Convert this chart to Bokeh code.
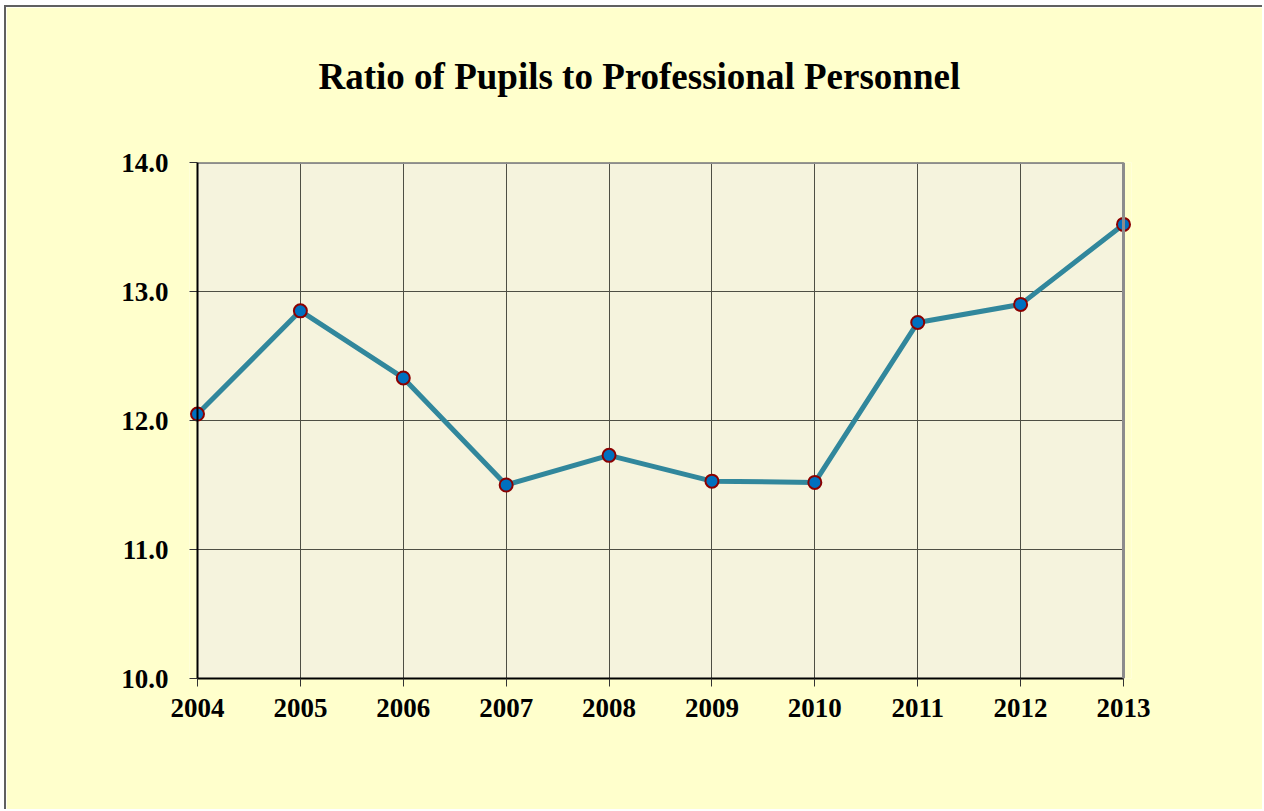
from bokeh.plotting import figure
from bokeh.models import Range1d, FixedTicker, NumeralTickFormatter, BoxAnnotation, Span
from bokeh.embed import file_html
from bokeh.resources import INLINE

years = [2004, 2005, 2006, 2007, 2008, 2009, 2010, 2011, 2012, 2013]
ratio = [12.05, 12.85, 12.33, 11.50, 11.73, 11.53, 11.52, 12.76, 12.90, 13.52]
y_ticks = [10, 11, 12, 13, 14]
title_text = "Ratio of Pupils to Professional Personnel"

FONT = "Liberation Serif"
PLOT_BG = "#F5F3DD"
PAGE_BG = "#FFFFCC"
GRID = "#4E4E44"

W, H = 1258, 804
tick_left, tick_right = 191, 1117   # canvas px of first/last year
frame_top, frame_bottom = 155, 671
pad_px = 8
px_per_year = (tick_right - tick_left) / (years[-1] - years[0])
pad = pad_px / px_per_year

p = figure(width=W, height=H, output_backend="svg", toolbar_location=None,
           x_range=Range1d(years[0] - pad, years[-1] + pad),
           y_range=Range1d(y_ticks[0], y_ticks[-1]),
           min_border_left=tick_left - pad_px, min_border_right=W - (tick_right + pad_px),
           min_border_top=frame_top, min_border_bottom=H - frame_bottom)
p.styles = {"border-left": "2px solid #606060", "border-top": "2px solid #606060",
            "margin-left": "4px", "margin-top": "5px"}

p.background_fill_color = PAGE_BG
p.border_fill_color = PAGE_BG
p.outline_line_color = None

# plot area background
p.add_layout(BoxAnnotation(left=years[0], right=years[-1], bottom=y_ticks[0], top=y_ticks[-1],
                           fill_color=PLOT_BG, fill_alpha=1, line_color=None, level="image"))

# grid
p.xgrid.ticker = FixedTicker(ticks=years)
p.xgrid.grid_line_color = GRID
p.ygrid.grid_line_color = None
p.segment(x0=[years[0]] * len(y_ticks), x1=[years[-1]] * len(y_ticks), y0=y_ticks, y1=y_ticks,
          line_color=GRID, line_width=1)

# frame border (top/right) and left axis line
p.segment(x0=[years[0]], x1=[years[-1]], y0=[y_ticks[-1]], y1=[y_ticks[-1]],
          line_color="#8C8C8C", line_width=3)
p.add_layout(Span(location=years[-1], dimension="height", line_color="#8C8C8C", line_width=3))
p.add_layout(Span(location=years[0], dimension="height", line_color="black", line_width=2))

# axes
p.xaxis.ticker = FixedTicker(ticks=years)
p.xaxis.bounds = (years[0], years[-1])
p.yaxis.ticker = FixedTicker(ticks=y_ticks)
p.yaxis.formatter = NumeralTickFormatter(format="0.0")

for ax in (p.xaxis[0], p.yaxis[0]):
    ax.axis_line_color = "black"
    ax.axis_line_width = 2
    ax.major_tick_line_color = "#333333"
    ax.minor_tick_line_color = None
    ax.major_label_text_font = FONT
    ax.major_label_text_font_style = "bold"
    ax.major_label_text_font_size = "27px"
    ax.major_label_text_color = "black"
p.xaxis.major_tick_out = 8
p.xaxis.major_tick_in = 0
p.xaxis.major_label_standoff = 12
# y axis sits at the padded frame edge; its ticks point inward to the first year
p.yaxis.axis_line_color = None
p.yaxis.major_tick_out = 0
p.yaxis.major_tick_in = pad_px
p.yaxis.major_label_standoff = 21

# data
p.line(years, ratio, line_color="#31879C", line_width=5)
p.scatter(years, ratio, size=13, fill_color="#0070C0", line_color="#8B0000", line_width=2)

# title (trailing blank line lifts it above the plot area)
p.title.text = title_text + "\n"
p.title.align = "left"
p.title.offset = 129
p.title.text_font = FONT
p.title.text_font_style = "bold"
p.title.text_font_size = "37px"
p.title.text_color = "black"
p.title.standoff = 50

open("out.html", "w").write(file_html(p, INLINE))
